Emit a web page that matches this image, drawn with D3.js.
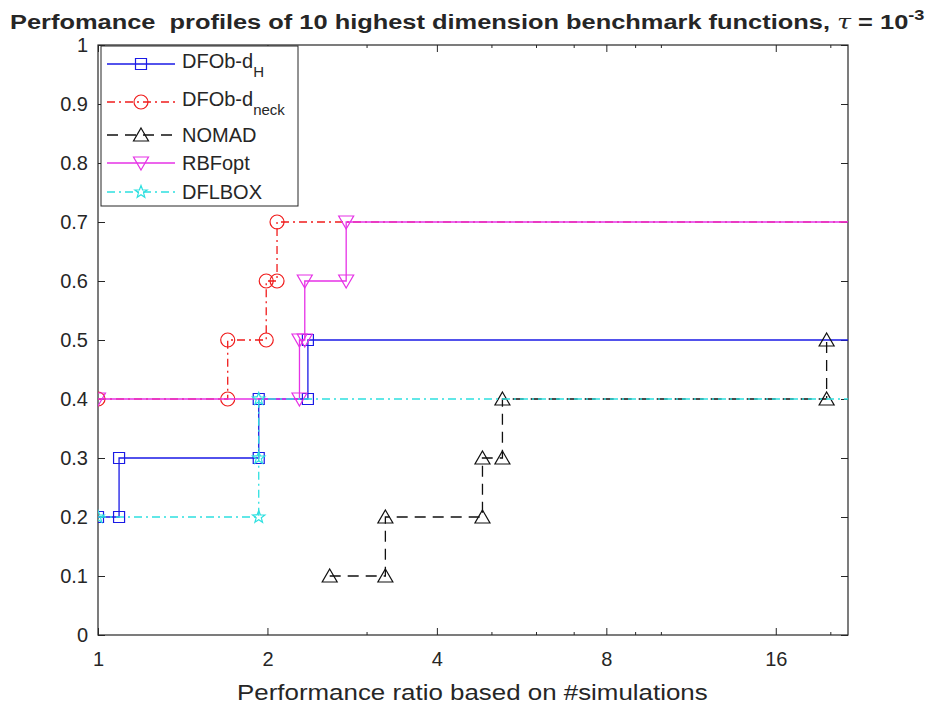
<!DOCTYPE html>
<html><head><meta charset="utf-8">
<script src="https://cdn.jsdelivr.net/npm/d3@7"></script>
<style>
body{margin:0;background:#fff}
svg{display:block}
text{font-family:"Liberation Sans",Arial,Helvetica,sans-serif;fill:#262626;white-space:pre}
</style>
</head><body><svg id="c" width="934" height="710"></svg>
<script>
// ---------- data ----------
const xDomain = [1, 21.5];
const xMajorTicks = [1, 2, 4, 8, 16];
const xMinorTicks = [3, 5, 6, 7, 9, 10, 20];
const yTicks = [0, 0.1, 0.2, 0.3, 0.4, 0.5, 0.6, 0.7, 0.8, 0.9, 1];
const yTickLabels = ["0", "0.1", "0.2", "0.3", "0.4", "0.5", "0.6", "0.7", "0.8", "0.9", "1"];

const dfobH_x    = [1, 1.09, 1.09, 1.93, 1.93, 2.36, 2.36];
const dfobH_y    = [0.2, 0.2, 0.3, 0.3, 0.4, 0.4, 0.5];
const dfobNeck_x = [1, 1.70, 1.70, 1.99, 1.99, 2.08, 2.08];
const dfobNeck_y = [0.4, 0.4, 0.5, 0.5, 0.6, 0.6, 0.7];
const nomad_x    = [2.58, 3.24, 3.24, 4.82, 4.82, 5.23, 5.23, 19.7, 19.7];
const nomad_y    = [0.1, 0.1, 0.2, 0.2, 0.3, 0.3, 0.4, 0.4, 0.5];
const rbfopt_x   = [1, 2.28, 2.28, 2.33, 2.33, 2.76, 2.76];
const rbfopt_y   = [0.4, 0.4, 0.5, 0.5, 0.6, 0.6, 0.7];
const dflbox_x   = [1, 1.93, 1.93, 1.93];
const dflbox_y   = [0.2, 0.2, 0.3, 0.4];

const seriesNames = ["DFOb-d", "DFOb-d", "NOMAD", "RBFopt", "DFLBOX"];
const seriesSubs  = ["H", "neck", "", "", ""];
const seriesColors = ["#1a1ae6", "#f01c1c", "#111111", "#e632e6", "#2ee0e0"];
const seriesDash   = ["none", "8,4,2,4", "11,7", "none", "8,4,2,4"];
const seriesMarker = ["square", "circle", "triUp", "triDown", "star"];
const seriesExtend = [true, true, false, true, true];

// ---------- layout ----------
const svg = d3.select("#c");
const L = 98, R = 848, T = 45, B = 635;
const x = d3.scaleLog().base(2).domain(xDomain).range([L, R]);
const y = d3.scaleLinear().domain([0, 1]).range([B, T]);
const axisColor = "#262626";

svg.append("defs").append("clipPath").attr("id","clip")
  .append("rect").attr("x",L).attr("y",T-10).attr("width",R-L).attr("height",B-T+20);

function styleAxis(g){
  g.select(".domain").remove();
  g.selectAll(".tick line").attr("stroke", axisColor).attr("stroke-width",1);
  g.selectAll(".tick text").attr("fill", axisColor).style("font-size","20px")
   .style("font-family",'"Liberation Sans",Arial,sans-serif');
}
const fmtY = (d)=> yTickLabels[yTicks.indexOf(d)];
svg.append("g").attr("transform",`translate(0,${B})`)
  .call(d3.axisBottom(x).tickValues(xMajorTicks).tickFormat(d=>String(d)).tickSizeInner(-7).tickSizeOuter(0).tickPadding(17))
  .call(styleAxis);
svg.append("g").attr("transform",`translate(0,${B})`)
  .call(d3.axisBottom(x).tickValues(xMinorTicks).tickFormat("").tickSizeInner(-3).tickSizeOuter(0))
  .call(styleAxis);
svg.append("g").attr("transform",`translate(0,${T})`)
  .call(d3.axisTop(x).tickValues(xMajorTicks).tickFormat("").tickSizeInner(-7).tickSizeOuter(0))
  .call(styleAxis);
svg.append("g").attr("transform",`translate(0,${T})`)
  .call(d3.axisTop(x).tickValues(xMinorTicks).tickFormat("").tickSizeInner(-3).tickSizeOuter(0))
  .call(styleAxis);
svg.append("g").attr("transform",`translate(${L},0)`)
  .call(d3.axisLeft(y).tickValues(yTicks).tickFormat(fmtY).tickSizeInner(-7).tickSizeOuter(0).tickPadding(10))
  .call(styleAxis);
svg.append("g").attr("transform",`translate(${R},0)`)
  .call(d3.axisRight(y).tickValues(yTicks).tickFormat("").tickSizeInner(-7).tickSizeOuter(0))
  .call(styleAxis);
svg.append("rect").attr("x",L).attr("y",T).attr("width",R-L).attr("height",B-T)
  .attr("fill","none").attr("stroke",axisColor).attr("stroke-width",1.2);

function markerPath(type){
  switch(type){
    case "square": return "M-5.5,-5.5H5.5V5.5H-5.5Z";
    case "circle": return "M7,0A7,7 0 1,1 -7,0A7,7 0 1,1 7,0Z";
    case "triUp": return "M0,-7L7.5,6H-7.5Z";
    case "triDown": return "M0,7L7.5,-6H-7.5Z";
    case "star": {
      let p = "";
      for(let i=0;i<10;i++){
        const r = i%2===0 ? 6.5 : 2.7;
        const a = -Math.PI/2 + i*Math.PI/5;
        p += (i===0?"M":"L") + (r*Math.cos(a)).toFixed(2) + "," + (r*Math.sin(a)).toFixed(2);
      }
      return p+"Z";
    }
  }
}

const allX = [dfobH_x, dfobNeck_x, nomad_x, rbfopt_x, dflbox_x];
const allY = [dfobH_y, dfobNeck_y, nomad_y, rbfopt_y, dflbox_y];
const line = d3.line().x(d=>x(d[0])).y(d=>y(d[1]));
const plot = svg.append("g").attr("clip-path","url(#clip)");

allX.forEach((xs,i)=>{
  const pts = xs.map((v,j)=>[v, allY[i][j]]);
  const linePts = seriesExtend[i] ? pts.concat([[xDomain[1], pts[pts.length-1][1]]]) : pts;
  const g = plot.append("g");
  g.append("path").attr("d", line(linePts)).attr("fill","none")
    .attr("stroke", seriesColors[i]).attr("stroke-width",1.3)
    .attr("stroke-dasharray", seriesDash[i]);
  g.selectAll("path.m").data(pts).enter().append("path").attr("class","m")
    .attr("d", markerPath(seriesMarker[i]))
    .attr("transform", d=>`translate(${x(d[0])},${y(d[1])})`)
    .attr("fill","none").attr("stroke", seriesColors[i]).attr("stroke-width",1.2);
});

// legend
const legRows = [64, 102, 135, 163, 192];
const leg = svg.append("g");
leg.append("rect").attr("x",101).attr("y",46).attr("width",197).attr("height",160)
  .attr("fill","#fff").attr("stroke",axisColor).attr("stroke-width",1);
seriesNames.forEach((nm,i)=>{
  const ly = legRows[i];
  leg.append("line").attr("x1",107).attr("x2",175).attr("y1",ly).attr("y2",ly)
    .attr("stroke",seriesColors[i]).attr("stroke-width",1.3).attr("stroke-dasharray",seriesDash[i]);
  leg.append("path").attr("d",markerPath(seriesMarker[i])).attr("transform",`translate(141,${ly})`)
    .attr("fill","none").attr("stroke",seriesColors[i]).attr("stroke-width",1.2);
  const base = seriesSubs[i] ? ly + 4 : ly + 7;
  const t = leg.append("text").attr("x",182).attr("y",base).style("font-size","20px");
  t.append("tspan").text(nm);
  if(seriesSubs[i]) t.append("tspan").attr("dy",9).style("font-size","15px").text(seriesSubs[i]);
});

// x label
const xl = svg.append("text").attr("y",700).style("font-size","23px")
  .text("Performance ratio based on #simulations");
{
  const w = xl.node().getComputedTextLength();
  const target = 471, x0 = 237;
  xl.attr("transform",`translate(${x0},0) scale(${target/w},1)`).attr("x",0);
}

// title
const tt = svg.append("text").attr("y",0).style("font-size","21px").style("font-weight","bold").attr("fill","#000");
tt.append("tspan").text("Perfomance  profiles of 10 highest dimension benchmark functions, ");
tt.append("tspan").style("font-style","italic").style("font-weight","normal").style("font-family",'"DejaVu Serif",serif').text("τ");
tt.append("tspan").text(" = 10");
tt.append("tspan").attr("dy",-9).style("font-size","15px").text("-3");
{
  const w = tt.node().getBBox().width;
  tt.attr("transform",`translate(10,29) scale(${915/w},1)`);
}
</script>
</body></html>
